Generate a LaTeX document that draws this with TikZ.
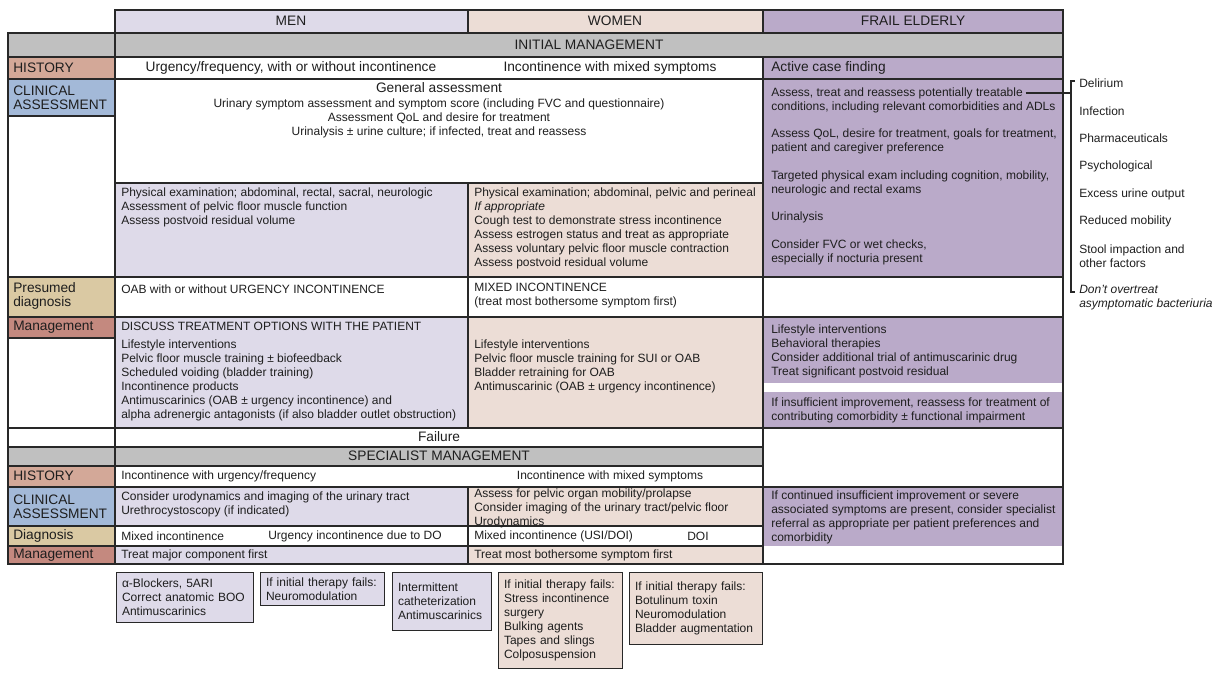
\documentclass[tikz,border=0pt]{standalone}
\usepackage{fontspec}
\setmainfont{Liberation Sans}
\usepackage{tikz}
\definecolor{menc}{RGB}{222,218,233}
\definecolor{womc}{RGB}{236,221,214}
\definecolor{frailc}{RGB}{186,170,201}
\definecolor{grayc}{RGB}{192,192,192}
\definecolor{histc}{RGB}{211,168,152}
\definecolor{clinc}{RGB}{163,185,216}
\definecolor{diagc}{RGB}{218,201,163}
\definecolor{mgmtc}{RGB}{196,137,127}
\definecolor{rulec}{RGB}{40,40,40}
\definecolor{ink}{RGB}{30,30,30}
\begin{document}
\begin{tikzpicture}[x=0.75pt, y=-0.75pt,
  txt/.style={font=\fontsize{9}{10.5}\selectfont, inner sep=0pt, anchor=west, align=left, text=ink},
  big/.style={font=\fontsize{10.3}{10.5}\selectfont, inner sep=0pt, text=ink},
  lbl/.style={big, anchor=west, align=left},
  rule/.style={draw=rulec, line width=1.1pt, line cap=rect},
  opt/.style={txt, draw=rulec, line width=1pt, anchor=north west, inner xsep=4pt, inner ysep=0pt}]
\useasboundingbox (0,0) rectangle (1219,675);
%
\fill[menc] (115,10) rectangle (468,33);
\fill[womc] (468,10) rectangle (763,33);
\fill[frailc] (763,10) rectangle (1063,33);
\fill[grayc] (8,33) rectangle (1063,57);
\fill[histc] (8,57) rectangle (115,79);
\fill[frailc] (763,57) rectangle (1063,277);
\fill[clinc] (8,79) rectangle (115,116);
\fill[menc] (115,183) rectangle (468,277);
\fill[womc] (468,183) rectangle (763,277);
\fill[diagc] (8,277) rectangle (115,317);
\fill[mgmtc] (8,317) rectangle (115,338);
\fill[menc] (115,317) rectangle (468,428);
\fill[womc] (468,317) rectangle (763,428);
\fill[frailc] (763,317) rectangle (1063,383);
\fill[frailc] (763,392) rectangle (1063,428);
\fill[grayc] (8,447) rectangle (763,466);
\fill[histc] (8,466) rectangle (115,487);
\fill[clinc] (8,487) rectangle (115,526);
\fill[menc] (115,487) rectangle (468,526);
\fill[womc] (468,487) rectangle (763,526);
\fill[frailc] (763,487) rectangle (1063,546);
\fill[diagc] (8,526) rectangle (115,546);
\fill[mgmtc] (8,546) rectangle (115,564);
\fill[menc] (115,546) rectangle (468,564);
\fill[womc] (468,546) rectangle (763,564);
%
\foreach \y in {33,57,79,277,317,428,487,564} \draw[rule] (8,\y) -- (1063,\y);
\foreach \y in {447,466,526,546} \draw[rule] (8,\y) -- (763,\y);
\foreach \y in {116,338} \draw[rule] (8,\y) -- (115,\y);
\draw[rule] (115,183) -- (763,183);
\draw[rule] (115,10) -- (1063,10);
\draw[rule] (8,33) -- (8,564);
\draw[rule] (115,10) -- (115,564);
\draw[rule] (1063,10) -- (1063,564);
\draw[rule] (763,10) -- (763,33) (763,57) -- (763,564);
\draw[rule] (468,10) -- (468,33) (468,183) -- (468,428) (468,487) -- (468,564);
%
\node[big] (men) at (291,21) {MEN};
\node[big] (women) at (615,21) {WOMEN};
\node[big] (frail) at (913,21) {FRAIL ELDERLY};
\node[big] (init) at (589,45) {INITIAL MANAGEMENT};
%
\node[lbl] (lhist) at (13,68) {HISTORY};
\node[lbl] (lclin) at (13,98) {CLINICAL\\ASSESSMENT};
\node[lbl] (lpres) at (13,296) {Presumed\\diagnosis};
\node[lbl] (lmgmt) at (13,327) {Management};
\node[lbl] (lhist2) at (13,476) {HISTORY};
\node[lbl] (lclin2) at (13,507) {CLINICAL\\ASSESSMENT};
\node[lbl] (ldiag) at (13,536) {Diagnosis};
\node[lbl] (lmgmt2) at (13,555) {Management};
%
\node[big] (mhist) at (291,68) {Urgency/frequency, with or without incontinence};
\node[big] (whist) at (610,68) {Incontinence with mixed symptoms};
\node[big, anchor=west] (fhist) at (771,68) {Active case finding};
\node[big] (genh) at (439,88) {General assessment};
\node[txt, anchor=center, align=center] (genb) at (439,118) {Urinary symptom assessment and symptom score (including FVC and questionnaire)\\Assessment QoL and desire for treatment\\Urinalysis ± urine culture; if infected, treat and reassess};
\node[txt] (mphys) at (121,207) {Physical examination; abdominal, rectal, sacral, neurologic\\Assessment of pelvic floor muscle function\\Assess postvoid residual volume};
\node[txt] (wphys) at (474,228) {Physical examination; abdominal, pelvic and perineal\\\textit{If appropriate}\\Cough test to demonstrate stress incontinence\\Assess estrogen status and treat as appropriate\\Assess voluntary pelvic floor muscle contraction\\Assess postvoid residual volume};
%
\node[txt] (treat) at (771,93) {Assess, treat and reassess potentially treatable};
\node[txt] (adl) at (771,107) {conditions, including relevant comorbidities and ADLs};
\node[txt] (qol) at (771,141) {Assess QoL, desire for treatment, goals for treatment,\\patient and caregiver preference};
\node[txt] (exam) at (771,183) {Targeted physical exam including cognition, mobility,\\neurologic and rectal exams};
\node[txt] (ua) at (771,217) {Urinalysis};
\node[txt] (fvc) at (771,252) {Consider FVC or wet checks,\\especially if nocturia present};
%
\node[txt] (mdx) at (121,289) {OAB with or without URGENCY INCONTINENCE};
\node[txt] (wdx) at (474,296) {MIXED INCONTINENCE\\(treat most bothersome symptom first)};
\node[txt] (mdisc) at (121,326) {DISCUSS TREATMENT OPTIONS WITH THE PATIENT};
\node[txt] (mtx) at (121,380) {Lifestyle interventions\\Pelvic floor muscle training ± biofeedback\\Scheduled voiding (bladder training)\\Incontinence products\\Antimuscarinics (OAB ± urgency incontinence) and\\alpha adrenergic antagonists (if also bladder outlet obstruction)};
\node[txt] (wtx) at (474,366) {Lifestyle interventions\\Pelvic floor muscle training for SUI or OAB\\Bladder retraining for OAB\\Antimuscarinic (OAB ± urgency incontinence)};
\node[txt] (flife) at (771,351) {Lifestyle interventions\\Behavioral therapies\\Consider additional trial of antimuscarinic drug\\Treat significant postvoid residual};
\node[txt] (fins) at (771,410) {If insufficient improvement, reassess for treatment of\\contributing comorbidity ± functional impairment};
%
\node[big] (fail) at (439,437) {Failure};
\node[big] (spec) at (439,456) {SPECIALIST MANAGEMENT};
\node[txt] (mhist2) at (121,476) {Incontinence with urgency/frequency};
\node[txt, anchor=center] (whist2) at (610,476) {Incontinence with mixed symptoms};
\node[txt] (mcl2) at (121,504) {Consider urodynamics and imaging of the urinary tract\\Urethrocystoscopy (if indicated)};
\node[txt] (wcl2) at (474,508) {Assess for pelvic organ mobility/prolapse\\Consider imaging of the urinary tract/pelvic floor\\Urodynamics};
\node[txt] (fref) at (771,517) {If continued insufficient improvement or severe\\associated symptoms are present, consider specialist\\referral as appropriate per patient preferences and\\comorbidity};
\node[txt] (mdx2a) at (121,536) {Mixed incontinence};
\node[txt] (mdx2b) at (268,536) {Urgency incontinence due to DO};
\node[txt] (wdx2a) at (474,536) {Mixed incontinence (USI/DOI)};
\node[txt] (wdx2b) at (687,536) {DOI};
\node[txt] (mtx2) at (121,555) {Treat major component first};
\node[txt] (wtx2) at (474,555) {Treat most bothersome symptom first};
%
\node[opt, fill=menc, text width=94.75pt, minimum height=37.5pt] (o1) at (116,572) {α-Blockers, 5ARI\\Correct anatomic BOO\\Antimuscarinics};
\node[opt, fill=menc, text width=85pt, minimum height=24.75pt] (o2) at (260,572) {If initial therapy fails:\\Neuromodulation};
\node[opt, fill=menc, text width=66.25pt, minimum height=43.5pt] (o3) at (392,572) {Intermittent\\catheterization\\Antimuscarinics};
\node[opt, fill=womc, text width=85pt, minimum height=72pt] (o4) at (498,572) {If initial therapy fails:\\Stress incontinence\\surgery\\Bulking agents\\Tapes and slings\\Colposuspension};
\node[opt, fill=womc, text width=91.75pt, minimum height=54pt] (o5) at (629,572) {If initial therapy fails:\\Botulinum toxin\\Neuromodulation\\Bladder augmentation};
%
\node[txt] (c1) at (1079,83) {Delirium};
\node[txt] (c2) at (1079,111) {Infection};
\node[txt] (c3) at (1079,138) {Pharmaceuticals};
\node[txt] (c4) at (1079,166) {Psychological};
\node[txt] (c5) at (1079,194) {Excess urine output};
\node[txt] (c6) at (1079,221) {Reduced mobility};
\node[txt] (c7) at (1079,256) {Stool impaction and\\other factors};
\node[txt, font=\fontsize{9}{10.5}\selectfont\itshape] (c8) at (1079,298) {Don't overtreat\\asymptomatic bacteriuria};
\coordinate (brktop) at (1071,81);
\coordinate (brkbot) at (1071,292);
\draw[rulec, line width=0.9pt] ([xshift=3pt]brktop) -- (brktop) -- (brkbot) -- ([xshift=3pt]brkbot);
\draw[rulec, line width=0.9pt, shorten <=2pt] (treat.east) -- (treat.east -| brktop);
\end{tikzpicture}
\end{document}
